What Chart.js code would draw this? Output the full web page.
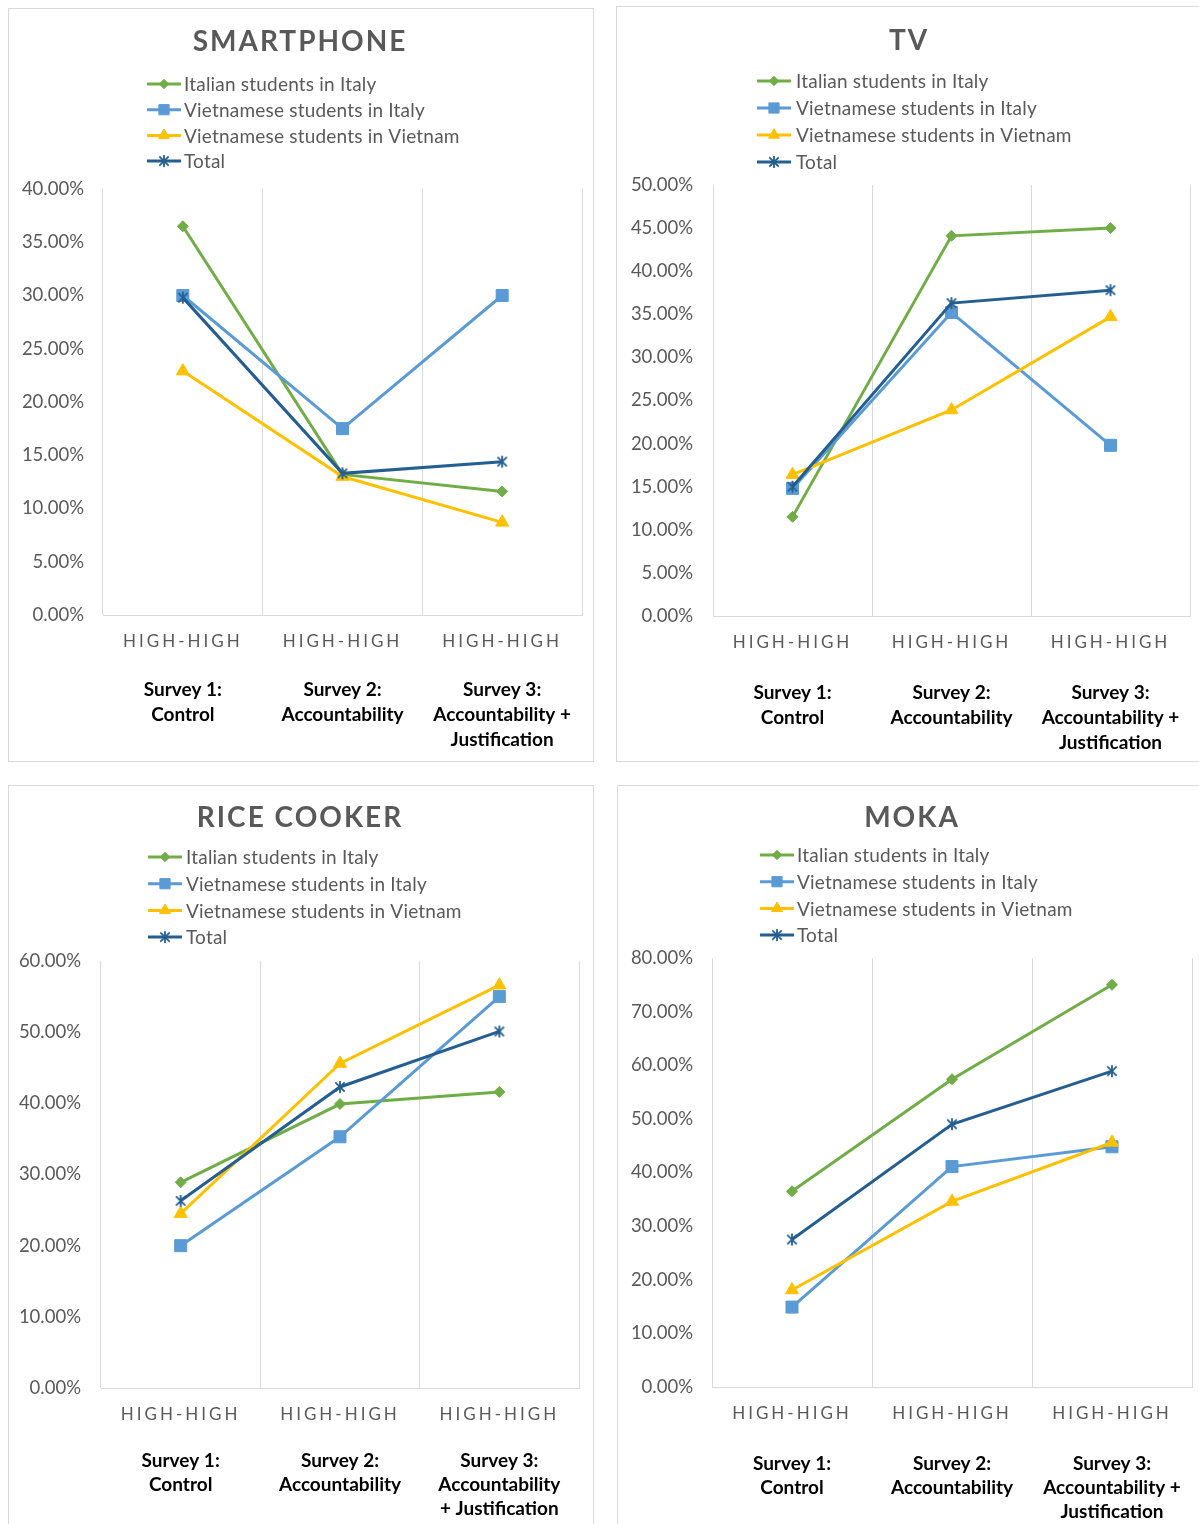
<!DOCTYPE html>
<html>
<head>
<meta charset="utf-8">
<title>High-High choices by survey</title>
<script src="https://cdn.jsdelivr.net/npm/chart.js@4.4.1/dist/chart.umd.min.js"></script>
<style>
  html, body { margin: 0; padding: 0; width: 1199px; height: 1524px; overflow: hidden; background: #fff; }
  .panel { position: absolute; }
  .panel canvas { position: absolute; left: 0; top: 0; }
  .frame { position: absolute; left: 0; top: 0; right: 0; bottom: 0; border: 1px solid #d9d9d9; box-sizing: border-box; pointer-events: none; }
</style>
</head>
<body>
<div class="panel" style="left:8px;top:8px;width:586px;height:754px"><canvas id="smartphone" width="586" height="754"></canvas><div class="frame"></div></div>
<div class="panel" style="left:616px;top:6px;width:586px;height:756px"><canvas id="tv" width="586" height="756"></canvas><div class="frame"></div></div>
<div class="panel" style="left:8px;top:785px;width:586px;height:760px"><canvas id="rice" width="586" height="745"></canvas><div class="frame"></div></div>
<div class="panel" style="left:617px;top:785px;width:586px;height:760px"><canvas id="moka" width="586" height="745"></canvas><div class="frame"></div></div>

<script>
// ---- data ----
const categories = ['HIGH-HIGH', 'HIGH-HIGH', 'HIGH-HIGH'];
const seriesNames = ['Italian students in Italy', 'Vietnamese students in Italy', 'Vietnamese students in Vietnam', 'Total'];
const surveyLabels = [['Survey 1:', 'Control'], ['Survey 2:', 'Accountability'], ['Survey 3:', 'Accountability +', 'Justification']];
const surveyLabelsRice = [['Survey 1:', 'Control'], ['Survey 2:', 'Accountability'], ['Survey 3:', 'Accountability', '+ Justification']];

// values in percent, one entry per survey
const smartphoneItalian   = [36.5, 13.2, 11.6];
const smartphoneVnItaly   = [30.0, 17.5, 30.0];
const smartphoneVnVietnam = [22.9, 13.0, 8.7];
const smartphoneTotal     = [29.8, 13.3, 14.4];

const tvItalian   = [11.5, 44.1, 45.0];
const tvVnItaly   = [14.8, 35.2, 19.8];
const tvVnVietnam = [16.4, 23.9, 34.7];
const tvTotal     = [15.0, 36.3, 37.8];

const riceItalian   = [28.9, 39.9, 41.6];
const riceVnItaly   = [20.0, 35.3, 55.0];
const riceVnVietnam = [24.5, 45.6, 56.6];
const riceTotal     = [26.3, 42.3, 50.1];

const mokaItalian   = [36.5, 57.4, 75.0];
const mokaVnItaly   = [14.9, 41.1, 44.8];
const mokaVnVietnam = [18.1, 34.6, 45.6];
const mokaTotal     = [27.5, 49.0, 58.9];

// ---- styling ----
const FONT = 'Lato, "Open Sans", sans-serif';
const GREY_TEXT = '#595959';
const GRID = '#d9d9d9';
const COLORS = ['#70AD47', '#5B9BD5', '#FFC000', '#255E91'];

// Asterisk marker used for the "Total" series
function asteriskMarker(color, size) {
  const c = document.createElement('canvas');
  c.width = c.height = size;
  const g = c.getContext('2d');
  g.strokeStyle = color;
  g.lineWidth = 1.8;
  const m = size / 2, r = size / 2 - 1, d = r * 0.78;
  g.beginPath();
  g.moveTo(m, m - r); g.lineTo(m, m + r);
  g.moveTo(m - d, m - d); g.lineTo(m + d, m + d);
  g.moveTo(m + d, m - d); g.lineTo(m - d, m + d);
  g.stroke();
  return c;
}

// Category axis whose tick labels are drawn with extra letter spacing
class SpacedCategoryScale extends Chart.CategoryScale {
  drawLabels(chartArea) {
    const ctx = this.ctx;
    ctx.save();
    ctx.letterSpacing = this.options.letterSpacing || '0px';
    super.drawLabels(chartArea);
    ctx.restore();
  }
}
SpacedCategoryScale.id = 'spacedCategory';
SpacedCategoryScale.defaults = Chart.CategoryScale.defaults;
Chart.register(SpacedCategoryScale);

// Title and stacked legend drawn above the plot
const panelDecor = {
  id: 'panelDecor',
  afterDraw(chart, args, o) {
    const ctx = chart.ctx;
    ctx.save();
    ctx.fillStyle = GREY_TEXT;
    ctx.font = 'bold 28px ' + FONT;
    ctx.letterSpacing = '2px';
    ctx.textAlign = 'center';
    ctx.textBaseline = 'middle';
    ctx.fillText(o.title, o.titleX, o.titleY);
    ctx.letterSpacing = '0.2px';
    ctx.font = '19px ' + FONT;
    ctx.textAlign = 'left';
    chart.data.datasets.forEach((ds, i) => {
      const y = o.legendY + i * o.legendStep;
      const x0 = o.legendX, x1 = o.legendX + 34;
      ctx.strokeStyle = ds.borderColor;
      ctx.lineWidth = ds.borderWidth;
      ctx.beginPath(); ctx.moveTo(x0, y); ctx.lineTo(x1, y); ctx.stroke();
      ctx.fillStyle = ds.pointBackgroundColor;
      ctx.strokeStyle = ds.pointBorderColor;
      ctx.lineWidth = 1;
      Chart.helpers.drawPoint(ctx, { pointStyle: ds.pointStyle, radius: ds.pointRadius * 0.85, borderWidth: 1, rotation: 0 }, (x0 + x1) / 2, y);
      ctx.fillStyle = GREY_TEXT;
      ctx.fillText(ds.label, x1 + o.legendGap, y + 1);
    });
    ctx.restore();
  }
};

function series(i, data, style, radius) {
  return {
    label: seriesNames[i], data,
    borderColor: COLORS[i], backgroundColor: COLORS[i], borderWidth: 3,
    pointStyle: style, pointRadius: radius, pointHoverRadius: radius,
    pointBackgroundColor: COLORS[i], pointBorderColor: COLORS[i], pointBorderWidth: 1,
    tension: 0, fill: false, order: 3 - i
  };
}

function makeChart(id, p) {
  const star = asteriskMarker(COLORS[3], 14);
  return new Chart(document.getElementById(id), {
    type: 'line',
    data: {
      labels: categories,
      datasets: [
        series(0, p.values[0], 'rectRot', 5.5),
        series(1, p.values[1], 'rect', 8.5),
        series(2, p.values[2], 'triangle', 7.5),
        series(3, p.values[3], star, 6)
      ]
    },
    plugins: [panelDecor],
    options: {
      responsive: false,
      animation: false,
      events: [],
      layout: { padding: { top: p.plot.t, right: p.W - p.plot.r, bottom: 0, left: 0 } },
      plugins: {
        legend: { display: false },
        tooltip: { enabled: false },
        panelDecor: {
          title: p.title, titleX: p.titleX, titleY: p.titleY,
          legendX: p.legendX, legendY: p.legendY, legendStep: p.legendStep, legendGap: p.legendGap
        }
      },
      scales: {
        x: {
          type: 'spacedCategory',
          position: 'bottom',
          weight: 0,
          offset: true,
          letterSpacing: '3px',
          grid: { display: true, offset: true, color: GRID, lineWidth: 1, drawTicks: false },
          border: { display: true, color: GRID, width: 1 },
          ticks: { color: GREY_TEXT, font: { family: FONT, size: 17, lineHeight: '20px' }, padding: 17, maxRotation: 0, autoSkip: false },
          afterFit: s => { s.height = 50; }
        },
        survey: {
          type: 'category',
          position: 'bottom',
          weight: 1,
          offset: true,
          labels: p.surveys,
          min: 0, max: 2,
          grid: { display: false, drawTicks: false },
          border: { display: false },
          ticks: { color: '#000', font: { family: FONT, size: 19, weight: 'bold', lineHeight: p.surveyLH + 'px' }, padding: p.surveyPad, maxRotation: 0, autoSkip: false },
          afterFit: s => { s.height = p.H - p.plot.b - 50; }
        },
        y: {
          min: 0, max: p.yMax,
          grid: { display: false, drawTicks: false },
          border: { display: false },
          ticks: {
            stepSize: p.yStep,
            color: GREY_TEXT,
            font: { family: FONT, size: 18.5 },
            padding: p.plot.l - p.yLabelRight,
            callback: v => v.toFixed(2) + '%'
          },
          afterFit: s => { s.width = p.plot.l; }
        }
      }
    }
  });
}

const panels = [
  { id: 'smartphone', title: 'SMARTPHONE', W: 586, H: 754,
    values: [smartphoneItalian, smartphoneVnItaly, smartphoneVnVietnam, smartphoneTotal],
    yMax: 40, yStep: 5, surveys: surveyLabels,
    plot: { l: 95, r: 574, t: 181, b: 607 }, yLabelRight: 76,
    titleX: 292, titleY: 34, legendX: 139, legendY: 76, legendStep: 25.7, legendGap: 3,
    surveyPad: 12.5, surveyLH: 25 },
  { id: 'tv', title: 'TV', W: 586, H: 756,
    values: [tvItalian, tvVnItaly, tvVnVietnam, tvTotal],
    yMax: 50, yStep: 5, surveys: surveyLabels,
    plot: { l: 97, r: 574, t: 179, b: 610 }, yLabelRight: 77,
    titleX: 293, titleY: 35, legendX: 141, legendY: 75, legendStep: 27, legendGap: 5,
    surveyPad: 14.5, surveyLH: 25 },
  { id: 'rice', title: 'RICE COOKER', W: 586, H: 745,
    values: [riceItalian, riceVnItaly, riceVnVietnam, riceTotal],
    yMax: 60, yStep: 10, surveys: surveyLabelsRice,
    plot: { l: 93, r: 571, t: 176, b: 603 }, yLabelRight: 73,
    titleX: 292, titleY: 33, legendX: 140, legendY: 72, legendStep: 26.7, legendGap: 4,
    surveyPad: 10.5, surveyLH: 24 },
  { id: 'moka', title: 'MOKA', W: 586, H: 745,
    values: [mokaItalian, mokaVnItaly, mokaVnVietnam, mokaTotal],
    yMax: 80, yStep: 10, surveys: surveyLabels,
    plot: { l: 95, r: 575, t: 173, b: 602 }, yLabelRight: 76,
    titleX: 295, titleY: 33, legendX: 143, legendY: 70, legendStep: 26.7, legendGap: 3,
    surveyPad: 14.5, surveyLH: 24 }
];

function drawAll() { panels.forEach(p => makeChart(p.id, p)); }
const fontsReady = document.fonts && document.fonts.load
  ? Promise.all([document.fonts.load('18px Lato'), document.fonts.load('bold 18px Lato')])
  : Promise.resolve();
Promise.race([fontsReady, new Promise(r => setTimeout(r, 800))]).then(drawAll, drawAll);
</script>
</body>
</html>
